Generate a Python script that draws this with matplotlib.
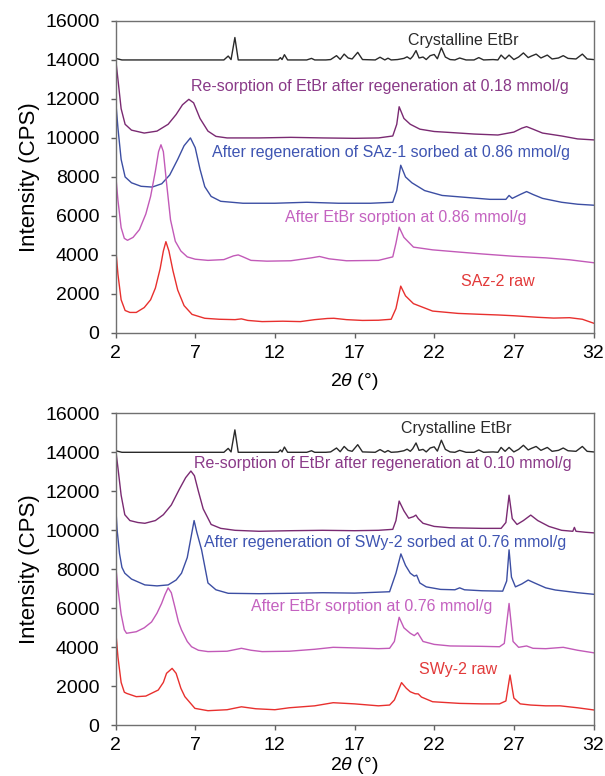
import matplotlib
matplotlib.use("Agg")
import matplotlib.pyplot as plt

plt.rcParams['font.family'] = ['Liberation Sans', 'DejaVu Sans']
plt.rcParams['mathtext.fontset'] = 'custom'
plt.rcParams['mathtext.rm'] = 'Liberation Sans'
plt.rcParams['mathtext.it'] = 'Liberation Sans:italic'

# ---------------- Crystalline EtBr reference pattern (both panels) ----------------
etbr_2theta = [2.0, 2.4, 5.0, 8.8, 9.07, 9.25, 9.49, 9.7, 11.0, 12.2, 12.35, 12.45, 12.6,
               12.8, 14.0, 14.3, 14.5, 15.2, 15.5, 15.87, 16.1, 16.35, 16.6, 16.85, 17.2,
               17.5, 18.3, 18.6, 18.9, 19.1, 19.3, 19.7, 20.1, 20.3, 20.5, 20.65, 20.86,
               21.05, 21.3, 21.5, 21.75, 22.0, 22.2, 22.45, 22.7, 23.0, 23.3, 23.6, 24.0,
               24.5, 24.8, 25.1, 25.7, 26.0, 26.2, 26.45, 26.7, 27.0, 27.3, 27.6, 27.9,
               28.1, 28.4, 28.7, 29.1, 29.4, 29.8, 30.1, 30.4, 30.9, 31.3, 31.6, 32.0]
etbr_cps = [14080, 14000, 14000, 14000, 14200, 14020, 15150, 14000, 14000, 14000, 14120, 14020,
            14270, 14000, 14000, 14080, 14000, 14000, 14020, 14220, 14030, 14300, 14100, 14050,
            14390, 14020, 14000, 14140, 14000, 14090, 14000, 14020, 14080, 14160, 14050, 14180,
            14480, 14100, 14150, 14020, 14220, 14280, 14060, 14620, 14150, 14020, 14000, 14100,
            14000, 14000, 14120, 14000, 14020, 14000, 14250, 14050, 14250, 14020, 14150, 14360,
            14120, 14200, 14300, 14100, 14250, 14050, 14100, 14220, 14080, 14050, 14300, 14050,
            14020]

# ---------------- SAz panel ----------------
saz_resorb_2theta = [2.0, 2.15, 2.35, 2.6, 3.0, 3.8, 4.6, 5.3, 5.8, 6.2, 6.6, 6.9, 7.3, 7.8,
                     8.3, 9.0, 11.0, 13.0, 15.0, 17.0, 18.5, 19.4, 19.65, 19.8, 20.1, 20.5,
                     21.1, 22.0, 23.0, 24.5, 26.0, 27.0, 27.5, 27.8, 28.2, 28.8, 30.0, 31.0, 32.0]
saz_resorb_cps = [14100, 13000, 11500, 10700, 10400, 10250, 10350, 10700, 11200, 11700, 11980,
                  11800, 11000, 10350, 10080, 10000, 10000, 10030, 10000, 9980, 10000, 10100,
                  10700, 11600, 11000, 10700, 10450, 10330, 10280, 10200, 10150, 10300, 10500,
                  10580, 10450, 10250, 10100, 9950, 9900]

saz_regen_2theta = [2.0, 2.15, 2.35, 2.6, 3.0, 3.6, 4.3, 4.9, 5.4, 5.9, 6.3, 6.7, 7.0, 7.3,
                    7.6, 8.0, 8.6, 10.0, 12.0, 14.0, 16.0, 18.0, 19.4, 19.65, 19.9, 20.2,
                    20.6, 21.4, 22.5, 24.0, 25.5, 26.5, 26.7, 26.9, 27.4, 27.8, 28.2, 28.8,
                    30.0, 31.0, 32.0]
saz_regen_cps = [12000, 10500, 8900, 8000, 7700, 7520, 7480, 7650, 8100, 8900, 9600, 10000,
                 9500, 8400, 7500, 7000, 6750, 6650, 6650, 6700, 6650, 6650, 6700, 7300, 8600,
                 8000, 7700, 7300, 7050, 6950, 6850, 6850, 7050, 6900, 7100, 7250, 7100, 6900,
                 6700, 6600, 6550]

saz_sorb_2theta = [2.0, 2.15, 2.35, 2.55, 2.75, 3.1, 3.5, 3.9, 4.2, 4.5, 4.7, 4.85, 5.0, 5.2,
                   5.45, 5.75, 6.1, 6.5, 7.0, 7.8, 8.8, 9.4, 9.7, 10.0, 10.5, 11.5, 13.0,
                   14.3, 14.8, 15.4, 16.5, 18.5, 19.4, 19.6, 19.8, 20.1, 20.7, 21.9, 23.5,
                   25.0, 27.0, 29.0, 30.5, 32.0]
saz_sorb_cps = [8200, 6800, 5400, 4850, 4750, 4900, 5300, 6100, 7000, 8300, 9300, 9650, 9300,
                7700, 5800, 4700, 4200, 3900, 3780, 3720, 3760, 3950, 4000, 3900, 3720, 3680,
                3700, 3850, 3920, 3800, 3700, 3720, 3900, 4600, 5420, 4900, 4400, 4260, 4150,
                4050, 3930, 3850, 3750, 3600]

saz_raw_2theta = [2.0, 2.15, 2.35, 2.6, 2.9, 3.3, 3.8, 4.2, 4.5, 4.8, 5.0, 5.16, 5.35, 5.6,
                  5.9, 6.3, 6.8, 7.6, 8.5, 9.5, 9.9, 10.3, 11.2, 12.5, 13.6, 14.5, 15.3,
                  15.7, 16.5, 17.5, 18.5, 19.3, 19.6, 19.9, 20.2, 20.7, 21.9, 23.5, 25.0,
                  26.0, 27.0, 28.5, 29.5, 30.5, 31.3, 32.0]
saz_raw_cps = [4450, 3000, 1700, 1150, 1050, 1050, 1300, 1700, 2300, 3300, 4200, 4680, 4200,
               3200, 2200, 1400, 950, 750, 700, 680, 720, 640, 580, 600, 580, 680, 740, 750,
               680, 640, 650, 700, 1250, 2400, 1900, 1500, 1120, 1000, 950, 920, 880, 800, 760,
               780, 700, 500]

# ---------------- SWy panel ----------------
swy_resorb_2theta = [2.0, 2.15, 2.35, 2.58, 2.9, 3.4, 3.84, 4.5, 5.0, 5.5, 6.0, 6.4, 6.73,
                     6.95, 7.2, 7.5, 8.0, 8.6, 9.5, 11.0, 13.0, 15.0, 17.0, 18.5, 19.4, 19.6,
                     19.8, 20.1, 20.4, 20.7, 20.85, 21.0, 21.3, 22.0, 23.0, 25.0, 26.2, 26.5,
                     26.7, 26.9, 27.2, 27.6, 28.06, 28.5, 29.2, 30.0, 30.7, 30.8, 30.9, 31.5,
                     32.0]
swy_resorb_cps = [14200, 13200, 11800, 10800, 10500, 10400, 10360, 10500, 10800, 11300, 12100,
                  12700, 13040, 12800, 12000, 11100, 10300, 10100, 10000, 9950, 9980, 10000,
                  9980, 10000, 10050, 10500, 11500, 11000, 10620, 10700, 10780, 10600, 10360,
                  10200, 10130, 10100, 10100, 10400, 11800, 10600, 10300, 10500, 10780, 10500,
                  10200, 10000, 9950, 10150, 9950, 9900, 9870]

swy_regen_2theta = [2.0, 2.1, 2.25, 2.4, 2.58, 3.0, 3.84, 4.6, 5.3, 5.8, 6.14, 6.5, 6.75,
                    6.93, 7.1, 7.4, 7.8, 8.3, 9.07, 11.0, 13.0, 15.0, 17.0, 19.2, 19.6, 19.91,
                    20.2, 20.5, 20.75, 20.9, 21.1, 21.5, 22.4, 23.3, 23.6, 23.9, 25.0, 26.3,
                    26.55, 26.7, 26.85, 27.1, 27.5, 27.9, 28.3, 29.0, 29.6, 31.0, 32.0]
swy_regen_cps = [11400, 10000, 8800, 8100, 7800, 7500, 7200, 7150, 7200, 7450, 7800, 8600, 9700,
                 10500, 9900, 9000, 7300, 6950, 6770, 6750, 6770, 6800, 6780, 6850, 7800, 8790,
                 8200, 7800, 7650, 7700, 7300, 7100, 6970, 6950, 7050, 6950, 6900, 6880, 7400,
                 9000, 7600, 7100, 7250, 7450, 7300, 7050, 6940, 6800, 6720]

swy_sorb_2theta = [2.0, 2.15, 2.35, 2.55, 2.69, 3.3, 3.8, 4.26, 4.6, 4.89, 5.1, 5.3, 5.5,
                   5.72, 5.95, 6.14, 6.5, 6.77, 7.2, 7.8, 9.0, 9.9, 10.5, 11.2, 12.9, 14.5,
                   15.66, 17.0, 18.5, 19.2, 19.5, 19.8, 20.1, 20.5, 20.75, 20.96, 21.3, 22.0,
                   23.0, 25.0, 26.1, 26.4, 26.7, 26.95, 27.3, 27.8, 28.2, 29.0, 30.1, 31.0, 32.0]
swy_sorb_cps = [8300, 7000, 5700, 4900, 4720, 4800, 5000, 5300, 5750, 6250, 6700, 7050, 6800,
                6080, 5300, 4890, 4300, 4030, 3850, 3780, 3800, 3950, 3850, 3780, 3800, 3900,
                4000, 3970, 3930, 3950, 4300, 5540, 5000, 4720, 4600, 4750, 4300, 4150, 4070,
                4050, 4030, 4200, 6250, 4300, 4000, 4070, 3950, 3930, 4000, 3850, 3720]

swy_raw_2theta = [2.0, 2.15, 2.35, 2.55, 2.69, 3.3, 3.9, 4.68, 5.0, 5.2, 5.55, 5.8, 6.1, 6.35,
                  6.98, 7.8, 9.0, 9.9, 10.8, 12.0, 12.9, 14.5, 15.66, 17.0, 18.5, 19.2, 19.5,
                  19.95, 20.25, 20.5, 20.8, 21.0, 21.2, 21.9, 23.6, 25.0, 26.1, 26.5, 26.76,
                  27.0, 27.4, 28.06, 29.0, 29.9, 31.0, 32.0]
swy_raw_cps = [4950, 3500, 2200, 1700, 1640, 1470, 1500, 1810, 2200, 2667, 2920, 2667, 1900,
               1470, 870, 750, 800, 950, 850, 800, 900, 1000, 1160, 1100, 1000, 1040, 1300,
               2190, 1900, 1720, 1620, 1610, 1450, 1210, 1125, 1100, 1100, 1250, 2580, 1400,
               1100, 1040, 1000, 1000, 900, 790]

x_ticks = [2, 7, 12, 17, 22, 27, 32]
y_ticks = list(range(0, 16001, 2000))

c_etbr = '#2a2a2a'
c_resorb = '#7a2a72'
c_regen = '#3c4ea3'
c_sorb = '#c25ab8'
c_raw = '#e8302e'
t_resorb = '#8a3a88'
t_regen = '#3f55b2'
t_sorb = '#c462c0'
t_raw = '#e23a3a'

panels = [
    dict(
        rect=[0.191, 0.571, 0.790, 0.402],
        traces=[(etbr_2theta, etbr_cps, c_etbr),
                (saz_resorb_2theta, saz_resorb_cps, c_resorb),
                (saz_regen_2theta, saz_regen_cps, c_regen),
                (saz_sorb_2theta, saz_sorb_cps, c_sorb),
                (saz_raw_2theta, saz_raw_cps, c_raw)],
        labels=[("Crystalline EtBr", 23.8, 14980, c_etbr),
                ("Re-sorption of EtBr after regeneration at 0.18 mmol/g", 18.6, 12640, t_resorb),
                ("After regeneration of SAz-1 sorbed at 0.86 mmol/g", 19.3, 9240, t_regen),
                ("After EtBr sorption at 0.86 mmol/g", 20.2, 5930, t_sorb),
                ("SAz-2 raw", 26.0, 2620, t_raw)],
        xlabel_y=-0.122,
    ),
    dict(
        rect=[0.191, 0.0653, 0.790, 0.4021],
        traces=[(etbr_2theta, etbr_cps, c_etbr),
                (swy_resorb_2theta, swy_resorb_cps, c_resorb),
                (swy_regen_2theta, swy_regen_cps, c_regen),
                (swy_sorb_2theta, swy_sorb_cps, c_sorb),
                (swy_raw_2theta, swy_raw_cps, c_raw)],
        labels=[("Crystalline EtBr", 23.4, 15230, c_etbr),
                ("Re-sorption of EtBr after regeneration at 0.10 mmol/g", 18.8, 13430, t_resorb),
                ("After regeneration of SWy-2 sorbed at 0.76 mmol/g", 18.9, 9360, t_regen),
                ("After EtBr sorption at 0.76 mmol/g", 18.1, 6080, t_sorb),
                ("SWy-2 raw", 23.5, 2840, t_raw)],
        xlabel_y=-0.094,
    ),
]

fig = plt.figure(figsize=(6.05, 7.76), dpi=100)

for p in panels:
    ax = fig.add_axes(p["rect"])
    for xs, ys, col in p["traces"]:
        ax.plot(xs, ys, color=col, lw=1.0)
    for text, tx, ty, col in p["labels"]:
        ax.text(tx, ty, text, color=col, fontsize=11.5, ha='center', va='center')
    ax.set_xlim(2, 32)
    ax.set_ylim(0, 16000)
    ax.set_xticks(x_ticks)
    ax.set_yticks(y_ticks)
    ax.tick_params(direction='out', length=3.5, width=1.0, color='#606060',
                   labelsize=14, top=False, right=False)
    ax.tick_params(axis='y', pad=8)
    ax.tick_params(axis='x', pad=5)
    for s in ax.spines.values():
        s.set_color('#707070')
        s.set_linewidth(1.0)
    ax.set_ylabel("Intensity (CPS)", fontsize=16)
    ax.yaxis.set_label_coords(-0.158, 0.5)
    ax.set_xlabel(r"2$\theta$ (°)", fontsize=14, va='top')
    ax.xaxis.set_label_coords(0.5, p["xlabel_y"])

fig.savefig("out.png", dpi=100)
